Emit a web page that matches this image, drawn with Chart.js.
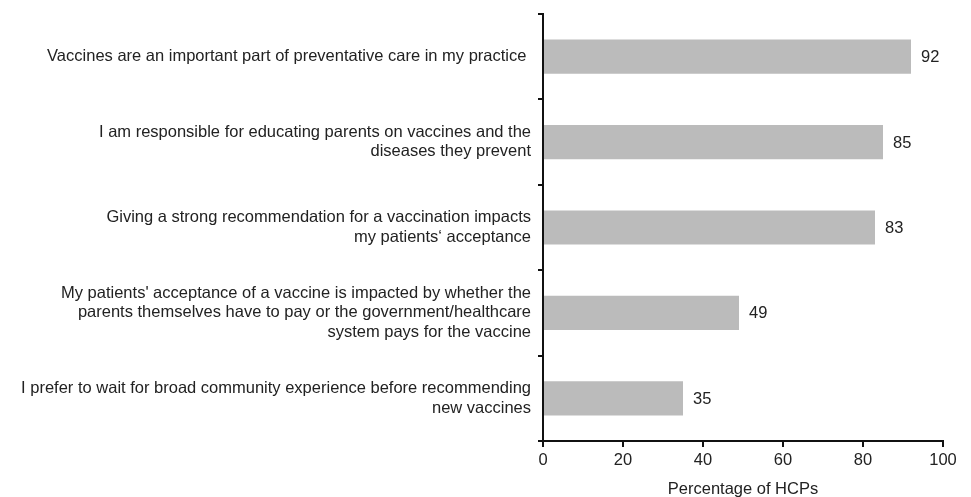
<!DOCTYPE html>
<html>
<head>
<meta charset="utf-8">
<script src="https://cdn.jsdelivr.net/npm/chart.js@4"></script>
<style>
  html, body { margin: 0; padding: 0; background: #fff; }
  #wrap { width: 971px; height: 497px; }
</style>
</head>
<body>
<div id="wrap"><canvas id="myChart" width="971" height="497"></canvas></div>
<script>
const statements = [
  ['Vaccines are an important part of preventative care in my practice '],
  ['I am responsible for educating parents on vaccines and the', 'diseases they prevent'],
  ['Giving a strong recommendation for a vaccination impacts', 'my patients\u2018 acceptance'],
  ['My patients\' acceptance of a vaccine is impacted by whether the', 'parents themselves have to pay or the government/healthcare', 'system pays for the vaccine'],
  ['I prefer to wait for broad community experience before recommending', 'new vaccines']
]
const percentages = [92, 85, 83, 49, 35]
const xTicks = [0, 20, 40, 60, 80, 100]

const fontFam = '"Liberation Sans", Arial, Helvetica, sans-serif'
const fs = 16.5
Chart.defaults.color = '#222'
Chart.defaults.font.family = fontFam
Chart.defaults.font.size = fs

// writes the number right after the end of each bar
const valueLabels = {
  id: 'valueLabels',
  afterDatasetsDraw(chart) {
    const c = chart.ctx
    const meta = chart.getDatasetMeta(0)
    c.save()
    c.font = fs + 'px ' + fontFam
    c.fillStyle = '#222'
    c.textAlign = 'left'
    c.textBaseline = 'middle'
    meta.data.forEach((bar, i) => {
      c.fillText(String(percentages[i]), bar.x + 10, bar.y + 1)
    })
    c.restore()
  }
}

const ctx = document.getElementById('myChart')

new Chart(ctx, {
  type: 'bar',
  data: {
    labels: statements,
    datasets: [{
      data: percentages,
      backgroundColor: '#bbbbbb',
      borderWidth: 0,
      barPercentage: 0.4,
      categoryPercentage: 1
    }]
  },
  options: {
    indexAxis: 'y',
    responsive: false,
    animation: false,
    layout: { padding: { top: 14, right: 28, left: 0, bottom: 0 } },
    plugins: {
      legend: { display: false },
      tooltip: { enabled: false }
    },
    scales: {
      x: {
        min: 0,
        max: 100,
        afterBuildTicks(scale) {
          scale.ticks = xTicks.map(v => ({ value: v }))
        },
        border: { color: '#111', width: 2 },
        grid: { drawOnChartArea: false, tickLength: 6, color: '#111', lineWidth: 2 },
        ticks: { padding: 4, color: '#222', font: { size: fs } },
        title: {
          display: true,
          text: 'Percentage of HCPs',
          color: '#222',
          font: { size: fs },
          padding: { top: 4, bottom: -2 }
        },
        afterFit(scale) {
          scale.height = 56
          scale.paddingLeft = 0
          scale.paddingRight = 0
        }
      },
      y: {
        border: { color: '#111', width: 2 },
        grid: { drawOnChartArea: false, tickLength: 5, color: '#111', lineWidth: 2, offset: true },
        ticks: { padding: 7, color: '#222', font: { size: fs, lineHeight: 1.18 } },
        afterFit(scale) {
          scale.width = 543
          scale.paddingTop = 0
          scale.paddingBottom = 0
        }
      }
    }
  },
  plugins: [valueLabels]
})
</script>
</body>
</html>
